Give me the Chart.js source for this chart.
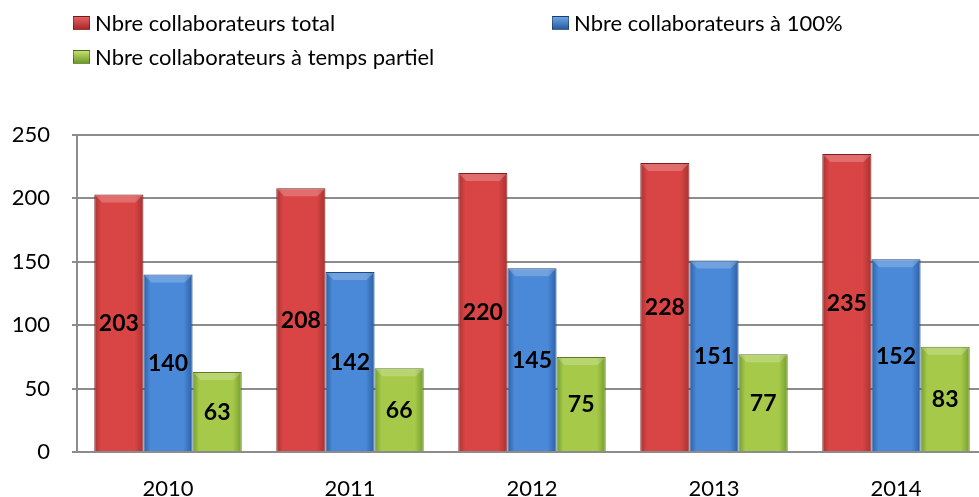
<!DOCTYPE html>
<html>
<head>
<meta charset="utf-8">
<script src="https://cdn.jsdelivr.net/npm/chart.js@4"></script>
<style>
  html, body { margin: 0; padding: 0; background: #fff; overflow: hidden; }
  #wrap { position: relative; width: 979px; height: 497px; overflow: hidden; }
  #box { position: absolute; left: 0; top: 0; width: 988px; height: 497px; }
  .leg { position: absolute; font-family: Lato, "Open Sans", sans-serif; font-size: 22px; color: #000; display: flex; align-items: center; white-space: nowrap; }
  .sw { width: 17px; height: 14px; margin-right: 5px; border: 1px solid rgba(0,0,0,0.35); box-sizing: border-box; }
</style>
</head>
<body>
<div id="wrap">
  <div id="box"><canvas id="myChart" width="988" height="497"></canvas></div>
  <div class="leg" style="left:73px; top:9px;"><span class="sw" style="background:linear-gradient(#e66060,#a82a2a)"></span>Nbre collaborateurs total</div>
  <div class="leg" style="left:552px; top:9px;"><span class="sw" style="background:linear-gradient(#6aa6e8,#2a5a9c)"></span>Nbre collaborateurs à 100%</div>
  <div class="leg" style="left:73px; top:43px;"><span class="sw" style="background:linear-gradient(#c2e070,#6e9a2a)"></span>Nbre collaborateurs à temps partiel</div>
</div>
<script>
// Données
const years = ['2010', '2011', '2012', '2013', '2014'];
const totalCollab = [203, 208, 220, 228, 235];
const fullTime = [140, 142, 145, 151, 152];
const partTime = [63, 66, 75, 77, 83];
const yTicks = [0, 50, 100, 150, 200, 250];

const catPct = 0.81;

// Dégradé horizontal pour imiter le relief des barres
function barGradient(ctx, dark, light) {
    const chart = ctx.chart;
    const area = chart.chartArea;
    const xs = chart.scales.x;
    if (!area || !xs || ctx.dataIndex === undefined) return light;
    const w = (area.width / years.length) * catPct / 3;
    const cx = xs.getPixelForValue(ctx.dataIndex) + (ctx.datasetIndex - 1) * w;
    const x0 = cx - w / 2;
    const g = chart.ctx.createLinearGradient(x0, 0, x0 + w, 0);
    g.addColorStop(0, dark);
    g.addColorStop(0.14, light);
    g.addColorStop(0.82, light);
    g.addColorStop(1, dark);
    return g;
}

// Biseau clair en haut de chaque barre + étiquettes au milieu
const barDecor = {
    id: 'barDecor',
    afterDatasetsDraw(chart) {
        const c = chart.ctx;
        c.save();
        chart.data.datasets.forEach((ds, i) => {
            chart.getDatasetMeta(i).data.forEach(bar => {
                const l = bar.x - bar.width / 2, r = bar.x + bar.width / 2, t = bar.y;
                const b = 8;
                c.fillStyle = 'rgba(255,255,255,0.22)';
                c.beginPath();
                c.moveTo(l + 1, t + 1);
                c.lineTo(r - 1, t + 1);
                c.lineTo(r - b, t + b);
                c.lineTo(l + b, t + b);
                c.closePath();
                c.fill();
            });
        });
        c.font = 'bold 23px Lato, "Open Sans", sans-serif';
        c.fillStyle = '#000';
        c.textAlign = 'center';
        c.textBaseline = 'middle';
        chart.data.datasets.forEach((ds, i) => {
            chart.getDatasetMeta(i).data.forEach((bar, j) => {
                const mid = (bar.y + bar.base) / 2;
                c.fillText(ds.data[j], bar.x, mid + 1);
            });
        });
        c.restore();
    }
};

const ctx = document.getElementById('myChart').getContext('2d');
new Chart(ctx, {
    type: 'bar',
    data: {
        labels: years,
        datasets: [
            {
                label: 'Nbre collaborateurs total',
                data: totalCollab,
                backgroundColor: c => barGradient(c, '#a83030', '#d94545'),
                borderColor: '#7e1f1f',
                borderWidth: 1
            },
            {
                label: 'Nbre collaborateurs à 100%',
                data: fullTime,
                backgroundColor: c => barGradient(c, '#2c5fa3', '#4a88d8'),
                borderColor: '#1f4a80',
                borderWidth: 1
            },
            {
                label: 'Nbre collaborateurs à temps partiel',
                data: partTime,
                backgroundColor: c => barGradient(c, '#739e2c', '#a6c94a'),
                borderColor: '#5a7f22',
                borderWidth: 1
            }
        ]
    },
    options: {
        responsive: false,
        animation: false,
        datasets: {
            bar: { categoryPercentage: catPct, barPercentage: 1, borderSkipped: 'bottom' }
        },
        layout: { padding: { top: 135, left: 0, right: 1, bottom: 0 } },
        plugins: {
            legend: { display: false },
            tooltip: { enabled: false }
        },
        scales: {
            x: {
                afterFit: axis => { axis.height = 45; },
                grid: { display: false, drawTicks: false },
                border: { color: '#8c8c8c', width: 2 },
                ticks: { color: '#000', font: { family: 'Lato', size: 22 }, padding: 24 }
            },
            y: {
                min: 0,
                max: 250,
                afterFit: axis => { axis.width = 77; },
                afterBuildTicks: axis => { axis.ticks = yTicks.map(v => ({ value: v })); },
                grid: { color: '#8c8c8c', lineWidth: 2, tickLength: 5 },
                border: { color: '#8c8c8c', width: 2 },
                ticks: { color: '#000', font: { family: 'Lato', size: 22 }, padding: 22 }
            }
        }
    },
    plugins: [barDecor]
});
</script>
</body>
</html>
